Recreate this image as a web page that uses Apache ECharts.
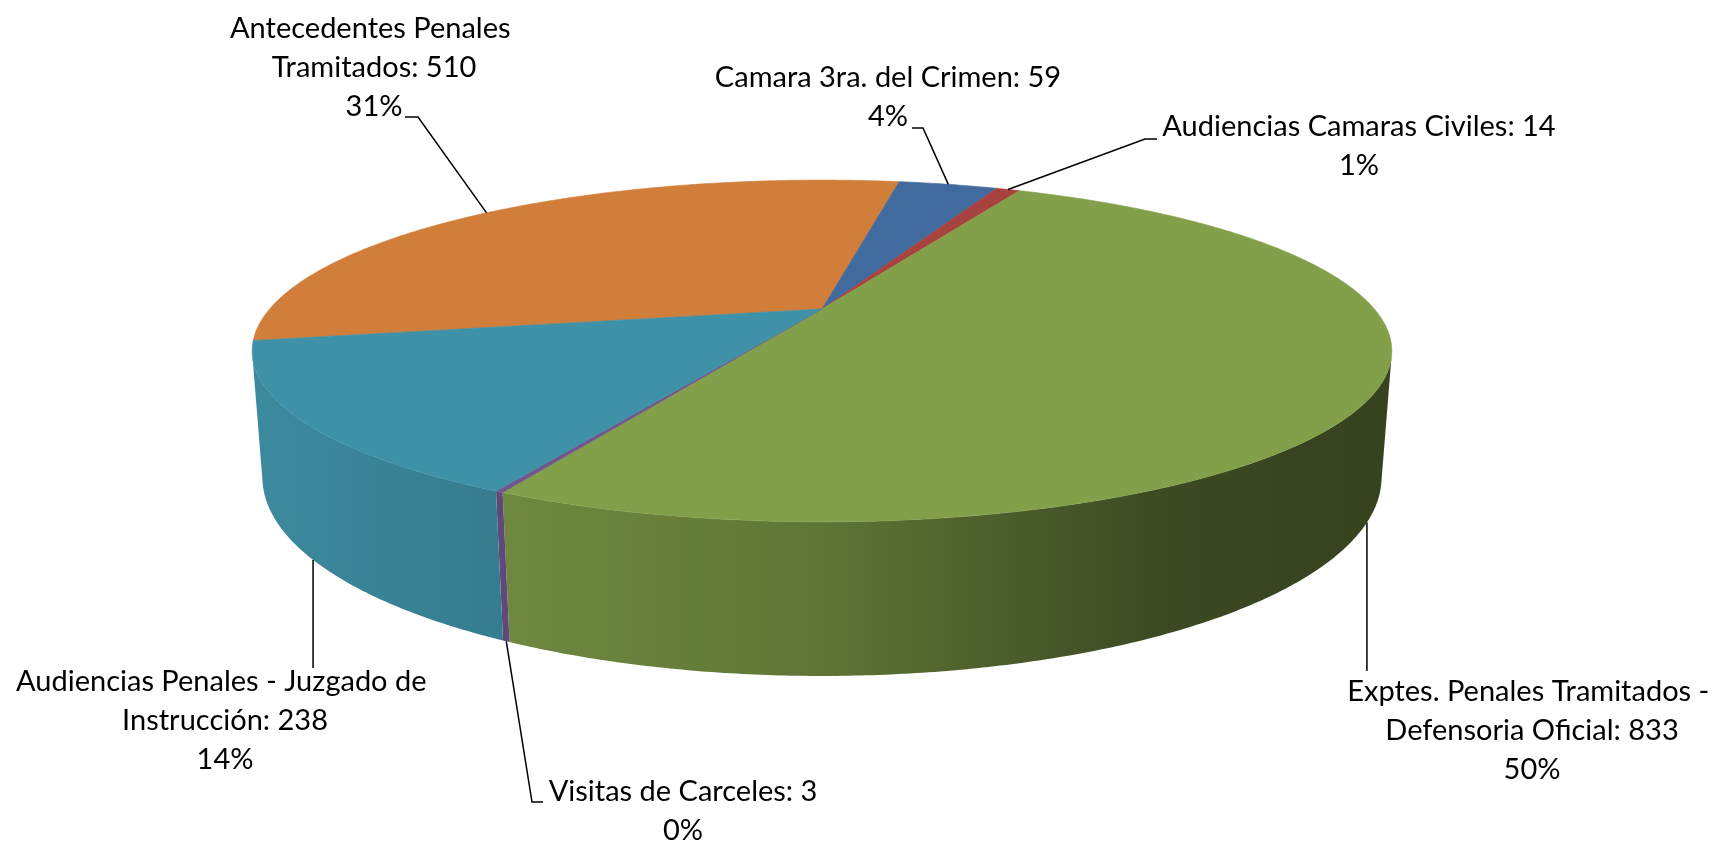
<!DOCTYPE html>
<html>
<head>
<meta charset="utf-8">
<script src="https://cdn.jsdelivr.net/npm/echarts@6/dist/echarts.min.js"></script>
<style>
  html, body { margin: 0; padding: 0; background: #fff; }
  #chart { width: 1723px; height: 845px; }
</style>
</head>
<body>
<div id="chart"></div>
<script>
// slices, clockwise from the left-back edge
const categories = [
  'Antecedentes Penales Tramitados',
  'Camara 3ra. del Crimen',
  'Audiencias Camaras Civiles',
  'Exptes. Penales Tramitados - Defensoria Oficial',
  'Visitas de Carceles',
  'Audiencias Penales - Juzgado de Instrucción'
];
const values = [510, 59, 14, 833, 3, 238];
const colors = ['#D07E3A', '#416A9F', '#A8423E', '#82A04A', '#71558F', '#3F91A7'];

// label boxes: centre x, first baseline, wrap width, leader bend points (a = anchor x)
const labelLayout = [
  { x: 374, base: 39, width: 300, leader: [[405, 117], [418, 117]] },
  { x: 888, base: 88, width: 420, leader: [[912, 128], [923, 128]] },
  { x: 1359, base: 137, width: 460, leader: [[1157, 139], [1145, 139]] },
  { x: 1532, base: 702, width: 390, leader: [['a', 671]] },
  { x: 683, base: 802, width: 340, leader: [[543, 802], [532, 802]] },
  { x: 225, base: 692, width: 420, leader: [['a', 668]] }
];

const FONT = 'Lato';
const FONT_SIZE = 29;
const LINE_H = 39;

// simple perspective camera looking down on a flat cylinder
const view = { cx: 822, cy: 309, F: 2152, L: 3.896, elev: 16.9 * Math.PI / 180, thick: 0.232 };
const startAngle = -100.8;
const total = values.reduce((a, b) => a + b, 0);

function project3(x, y, z) {
  const se = Math.sin(view.elev), ce = Math.cos(view.elev);
  const depth = view.L - y * ce - z * se;
  return [view.cx + view.F * x / depth, view.cy + view.F * (y * se - z * ce) / depth];
}
function project(deg, z) {
  const t = deg * Math.PI / 180;
  return project3(Math.sin(t), -Math.cos(t), z);
}

const wallLimit = Math.acos(-1 / (view.L * Math.cos(view.elev))) * 180 / Math.PI;
const wallFrom = wallLimit, wallTo = 360 - wallLimit;
const leftX = project(wallTo, 0)[0], rightX = project(wallFrom, 0)[0];

function shade(hex, f) {
  const c = echarts.color.parse(hex);
  return 'rgb(' + [0, 1, 2].map(k => Math.round(c[k] * f)).join(',') + ')';
}
const shadeStops = [[0, 0.95], [0.2, 0.86], [0.5, 0.73], [0.66, 0.58], [0.79, 0.47], [0.9, 0.43], [1, 0.42]];

function arc(a0, a1, z) {
  const n = Math.max(2, Math.ceil(Math.abs(a1 - a0) * 2));
  const pts = [];
  for (let k = 0; k <= n; k++) pts.push(project(a0 + (a1 - a0) * k / n, z));
  return pts;
}

const cum = [];
values.reduce((s, v, i) => { cum[i] = s; return s + v; }, 0);

function renderItem(params, api) {
  const i = params.dataIndex;
  const v = api.value(0);
  const a0 = startAngle + cum[i] / total * 360;
  const a1 = a0 + v / total * 360;
  const children = [];
  const bottomZ = -view.thick;

  // top face
  const top = [project3(0, 0, 0)].concat(arc(a0, a1, 0));
  children.push({
    type: 'polygon', z2: 10,
    shape: { points: top },
    style: { fill: colors[i], stroke: colors[i], lineWidth: 0.6 }
  });

  // front wall
  for (const shift of [-360, 0, 360]) {
    const s = Math.max(a0 + shift, wallFrom), e = Math.min(a1 + shift, wallTo);
    if (e > s) {
      const pts = arc(s, e, 0).concat(arc(e, s, bottomZ));
      children.push({
        type: 'polygon', z2: 5,
        shape: { points: pts },
        style: {
          fill: {
            type: 'linear', global: true, x: leftX, y: 0, x2: rightX, y2: 0,
            colorStops: shadeStops.map(d => ({ offset: d[0], color: shade(colors[i], d[1]) }))
          },
          stroke: null
        }
      });
    }
  }

  // label + leader
  const mid = (a0 + a1) / 2;
  const midN = ((mid % 360) + 360) % 360;
  const anchor = (midN > wallFrom && midN < wallTo) ? project(midN, bottomZ) : project(midN, 0);
  const lay = labelLayout[i];
  const leader = lay.leader.map(p => [p[0] === 'a' ? anchor[0] : p[0], p[1]]).concat([anchor]);
  children.push({
    type: 'polyline', z2: 20,
    shape: { points: leader },
    style: { stroke: '#000', lineWidth: 1.5, fill: null }
  });
  const pct = Math.round(v / total * 100);
  children.push({
    type: 'text', z2: 20,
    style: {
      text: categories[i] + ': ' + v + '\n' + pct + '%',
      x: lay.x, y: lay.base - 29.5,
      align: 'center', verticalAlign: 'top',
      width: lay.width, overflow: 'break',
      font: FONT_SIZE + 'px ' + FONT,
      lineHeight: LINE_H,
      fill: '#000'
    }
  });
  return { type: 'group', children };
}

const chart = echarts.init(document.getElementById('chart'));
chart.setOption({
  backgroundColor: '#fff',
  animation: false,
  series: [{
    type: 'custom',
    coordinateSystem: 'none',
    renderItem,
    data: values.map((v, i) => ({ name: categories[i], value: [v] }))
  }]
});
window.addEventListener('resize', () => chart.resize());
</script>
</body>
</html>
